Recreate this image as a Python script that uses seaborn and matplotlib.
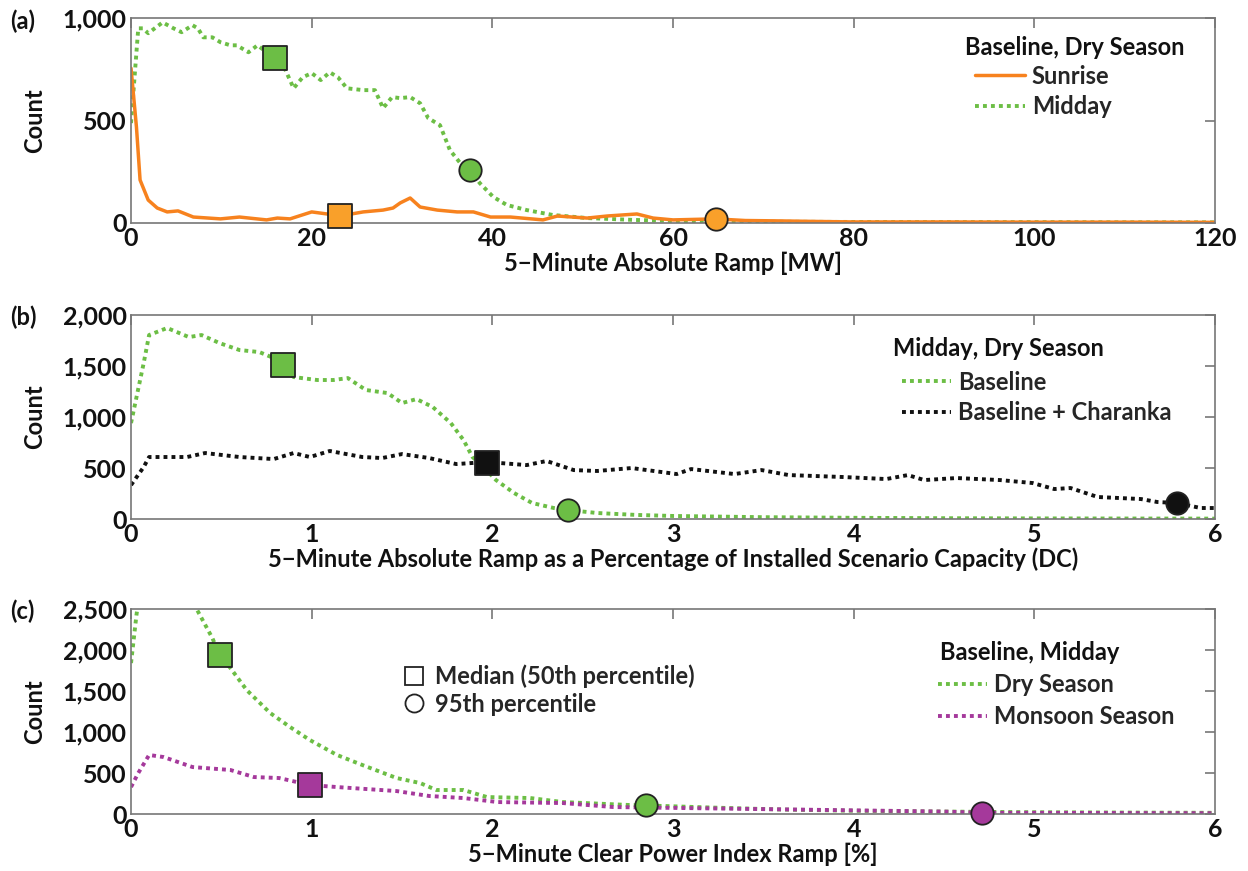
import numpy as np
import pandas as pd
import matplotlib
matplotlib.use("Agg")
import matplotlib.pyplot as plt
import seaborn as sns
from matplotlib.ticker import FuncFormatter
from matplotlib.lines import Line2D

# ---------------- data ----------------
# (a) Baseline, Dry Season: 5-minute absolute ramp [MW]
a_mid_x = [0, 0.8, 1.3, 1.9, 3.5, 4.7, 5.6, 6.8, 7.4, 8.0, 9.0, 9.9, 11, 11.7, 13, 14, 15.9, 17, 18, 19,
           20, 21, 22, 22.9, 23.9, 25.7, 27, 27.9, 28.9, 29.8, 30.9, 32, 32.9, 34.2, 35.3, 36.8, 37.5,
           38.6, 40.1, 41.6, 43.8, 46.7, 50.5, 55.6, 60, 65, 70, 80, 90, 100, 110, 120]
a_mid_y = [488, 951, 951, 927, 980, 951, 932, 966, 951, 907, 907, 883, 868, 868, 834, 868, 805, 756, 658, 712,
           732, 698, 736, 712, 658, 649, 649, 561, 615, 610, 615, 585, 512, 478, 356, 273, 259,
           195, 127, 88, 63, 39, 24, 15, 10, 8, 6, 5, 4, 4, 3, 3]
a_sun_x = [0, 0.6, 1.0, 1.9, 2.9, 4, 5.2, 6.9, 9.9, 12, 15, 16.2, 17.6, 20, 21.7, 23.1, 25.7, 27.9, 29, 29.8,
           30.9, 32, 33.9, 36.1, 37.9, 39.8, 42, 45.6, 47.2, 50.5, 52.7, 56, 57.8, 60, 64.7, 68, 72, 75,
           80, 90, 100, 110, 120]
a_sun_y = [756, 468, 210, 112, 73, 54, 59, 29, 20, 29, 15, 24, 20, 54, 44, 34, 54, 63, 73, 98,
           122, 78, 63, 54, 54, 29, 29, 15, 34, 24, 34, 44, 24, 15, 20, 12, 10, 8,
           5, 5, 4, 4, 3]
a_med_x = [15.9, 23.1]
a_med_y = [805, 34]
a_p95_x = [37.5, 64.7]
a_p95_y = [259, 20]

# (b) Midday, Dry Season: ramp as % of installed capacity (DC)
b_base_x = [0, 0.07, 0.1, 0.2, 0.32, 0.39, 0.49, 0.6, 0.71, 0.79, 0.84, 0.9, 1.03, 1.12, 1.2, 1.3, 1.42, 1.5,
            1.58, 1.67, 1.77, 1.84, 1.89, 1.95, 2.02, 2.12, 2.22, 2.34, 2.42, 2.58, 2.8, 3.0, 3.5, 4.0,
            4.5, 5.0, 5.5, 6.0]
b_base_y = [941, 1529, 1804, 1873, 1784, 1804, 1725, 1657, 1637, 1578, 1510, 1392, 1363, 1363, 1382, 1265,
            1235, 1137, 1176, 1098, 941, 775, 608, 510, 382, 255, 157, 108, 88, 59, 40, 30, 18, 12,
            8, 6, 5, 4]
b_char_x = [0, 0.07, 0.1, 0.31, 0.41, 0.6, 0.79, 0.9, 0.99, 1.1, 1.28, 1.39, 1.5, 1.65, 1.8, 1.97, 2.19,
            2.3, 2.45, 2.58, 2.77, 3.02, 3.1, 3.34, 3.49, 3.64, 3.94, 4.18, 4.3, 4.39, 4.57, 4.81, 4.99,
            5.11, 5.2, 5.35, 5.59, 5.68, 5.79, 5.92, 6.0]
b_char_y = [333, 510, 608, 608, 647, 608, 588, 647, 608, 667, 608, 598, 637, 598, 539, 559, 529,
            569, 480, 471, 500, 441, 490, 441, 480, 431, 412, 392, 431, 382, 402, 382, 353,
            294, 304, 216, 196, 167, 157, 108, 108]
b_med_x = [0.84, 1.97]
b_med_y = [1510, 549]
b_p95_x = [2.42, 5.79]
b_p95_y = [88, 157]

# (c) Baseline, Midday: 5-minute clear power index ramp [%]
c_dry_x = [0, 0.03, 0.06, 0.1, 0.2, 0.3, 0.36, 0.45, 0.49, 0.55, 0.64, 0.77, 0.88, 0.99, 1.14, 1.28, 1.47,
           1.6, 1.69, 1.84, 1.97, 2.21, 2.39, 2.76, 2.85, 3.2, 3.6, 4.0, 4.5, 5.0, 5.5, 6.0]
c_dry_y = [1841, 2427, 2900, 3300, 3200, 2800, 2512, 2146, 1939, 1780, 1512, 1232, 1061, 902, 720, 598, 439,
           378, 293, 293, 207, 195, 146, 110, 105, 80, 55, 40, 30, 22, 18, 15]
c_mon_x = [0, 0.04, 0.1, 0.18, 0.34, 0.55, 0.68, 0.82, 0.99, 1.14, 1.47, 1.65, 1.84, 2.03, 2.39, 2.67,
           3.0, 3.5, 4.0, 4.5, 4.71, 5.0, 5.5, 6.0]
c_mon_y = [329, 500, 720, 695, 573, 537, 451, 439, 354, 329, 280, 220, 195, 146, 134, 85,
           75, 60, 45, 30, 15, 15, 12, 10]
c_med_x = [0.49, 0.99]
c_med_y = [1939, 354]
c_p95_x = [2.85, 4.71]
c_p95_y = [105, 15]

ORANGE = "#F7821E"
ORANGE_M = "#F9A02A"
GREEN = "#6CBE45"
MAGENTA = "#A5399B"
BLACK = "#111111"
DOT = (0, (1, 1.05))

# ---------------- style ----------------
sns.set_theme(style="white")
plt.rcParams["font.family"] = ["Lato", "DejaVu Sans"]
plt.rcParams["font.weight"] = "bold"
plt.rcParams["axes.labelweight"] = "bold"

fig = plt.figure(figsize=(12.48, 8.71), dpi=100)
L, R = 0.105, 0.9736
axA = fig.add_axes([L, 0.744, R - L, 0.979 - 0.744])
axB = fig.add_axes([L, 0.4041, R - L, 0.6383 - 0.4041])
axC = fig.add_axes([L, 0.0654, R - L, 0.3008 - 0.0654])

comma = FuncFormatter(lambda v, p: f"{v:,.0f}")
TICK_FS = 18
LAB_FS = 17
LEG_FS = 17


def style_axes(ax):
    for s in ax.spines.values():
        s.set_color("#777777")
        s.set_linewidth(1.2)
    ax.tick_params(direction="in", top=True, right=True, length=7, width=1.2,
                   colors="#777777", labelcolor="#111111", labelsize=TICK_FS, pad=3)
    ax.yaxis.set_major_formatter(comma)
    ax.set_ylabel("Count", fontsize=LAB_FS, color="#111111", labelpad=12)


def line(ax, x, y, color, ls, lw):
    sns.lineplot(x=x, y=y, ax=ax, color=color, linestyle=ls, linewidth=lw,
                 estimator=None, sort=False, legend=False)


def marks(ax, x, y, color, marker, size):
    ax.scatter(x, y, s=size, marker=marker, facecolor=color, edgecolor="#222222",
               linewidths=1.3, zorder=5, clip_on=False)


def add_legend(ax, handles, labels, title, tx, ty, lx, ly, spacing):
    ax.text(tx, ty, title, transform=ax.transAxes, ha="left", va="center",
            fontsize=LEG_FS, fontweight="bold", color="#111111")
    leg = ax.legend(handles, labels, loc="upper left", bbox_to_anchor=(lx, ly),
                    frameon=False, fontsize=LEG_FS, handlelength=2.1, handletextpad=0.3,
                    labelspacing=spacing, borderpad=0.0, borderaxespad=0.0)
    return leg


# (a)
line(axA, a_mid_x, a_mid_y, GREEN, DOT, 2.8)
line(axA, a_sun_x, a_sun_y, ORANGE, "-", 2.5)
marks(axA, a_med_x[:1], a_med_y[:1], GREEN, "s", 280)
marks(axA, a_med_x[1:], a_med_y[1:], ORANGE_M, "s", 280)
marks(axA, a_p95_x[:1], a_p95_y[:1], GREEN, "o", 260)
marks(axA, a_p95_x[1:], a_p95_y[1:], ORANGE_M, "o", 260)
axA.set_xlim(0, 120)
axA.set_ylim(0, 1000)
axA.set_xticks([0, 20, 40, 60, 80, 100, 120])
axA.set_yticks([0, 500, 1000])
style_axes(axA)
axA.set_xlabel("5\u2212Minute Absolute Ramp [MW]", fontsize=LAB_FS, color="#111111", labelpad=1)
hA = [Line2D([], [], color=ORANGE, lw=2.5, ls="-"), Line2D([], [], color=GREEN, lw=2.8, ls=DOT)]
add_legend(axA, hA, ["Sunrise", "Midday"], "Baseline, Dry Season",
           0.7694, 0.8585, 0.7786, 0.773, 0.3)

# (b)
line(axB, b_base_x, b_base_y, GREEN, DOT, 2.8)
line(axB, b_char_x, b_char_y, BLACK, DOT, 2.8)
marks(axB, b_med_x[:1], b_med_y[:1], GREEN, "s", 280)
marks(axB, b_med_x[1:], b_med_y[1:], BLACK, "s", 280)
marks(axB, b_p95_x[:1], b_p95_y[:1], GREEN, "o", 260)
marks(axB, b_p95_x[1:], b_p95_y[1:], BLACK, "o", 260)
axB.set_xlim(0, 6)
axB.set_ylim(0, 2000)
axB.set_xticks(range(0, 7))
axB.set_yticks([0, 500, 1000, 1500, 2000])
style_axes(axB)
axB.set_xlabel("5\u2212Minute Absolute Ramp as a Percentage of Installed Scenario Capacity (DC)",
               fontsize=LAB_FS, color="#111111", labelpad=1)
hB = [Line2D([], [], color=GREEN, lw=2.8, ls=DOT), Line2D([], [], color=BLACK, lw=2.8, ls=DOT)]
add_legend(axB, hB, ["Baseline", "Baseline + Charanka"], "Midday, Dry Season",
           0.703, 0.838, 0.711, 0.727, 0.3)

# (c)
line(axC, c_dry_x, c_dry_y, GREEN, DOT, 2.8)
line(axC, c_mon_x, c_mon_y, MAGENTA, DOT, 2.8)
marks(axC, c_med_x[:1], c_med_y[:1], GREEN, "s", 280)
marks(axC, c_med_x[1:], c_med_y[1:], MAGENTA, "s", 280)
marks(axC, c_p95_x[:1], c_p95_y[:1], GREEN, "o", 260)
marks(axC, c_p95_x[1:], c_p95_y[1:], MAGENTA, "o", 260)
axC.set_xlim(0, 6)
axC.set_ylim(0, 2500)
axC.set_xticks(range(0, 7))
axC.set_yticks([0, 500, 1000, 1500, 2000, 2500])
style_axes(axC)
axC.set_xlabel("5\u2212Minute Clear Power Index Ramp [%]", fontsize=LAB_FS, color="#111111", labelpad=1)
hC = [Line2D([], [], color=GREEN, lw=2.8, ls=DOT), Line2D([], [], color=MAGENTA, lw=2.8, ls=DOT)]
legC = add_legend(axC, hC, ["Dry Season", "Monsoon Season"], "Baseline, Midday",
                  0.746, 0.790, 0.744, 0.687, 0.38)
hM = [Line2D([], [], ls="none", marker="s", markersize=13, markerfacecolor="white",
             markeredgecolor="#222222", markeredgewidth=1.3),
      Line2D([], [], ls="none", marker="o", markersize=13, markerfacecolor="white",
             markeredgecolor="#222222", markeredgewidth=1.3)]
axC.legend(hM, ["Median (50th percentile)", "95th percentile"], loc="upper left",
           bbox_to_anchor=(0.25, 0.73), frameon=False, fontsize=LEG_FS,
           handletextpad=0.4, labelspacing=0.2, borderpad=0.0, borderaxespad=0.0, handlelength=1.0)
axC.add_artist(legC)

# panel labels
for ax, lab in [(axA, "(a)"), (axB, "(b)"), (axC, "(c)")]:
    pos = ax.get_position()
    fig.text(0.008, pos.y1 - 0.003, lab, fontsize=LAB_FS, ha="left", va="center",
             color="#111111", fontweight="bold")

fig.savefig("out.png", dpi=100)
